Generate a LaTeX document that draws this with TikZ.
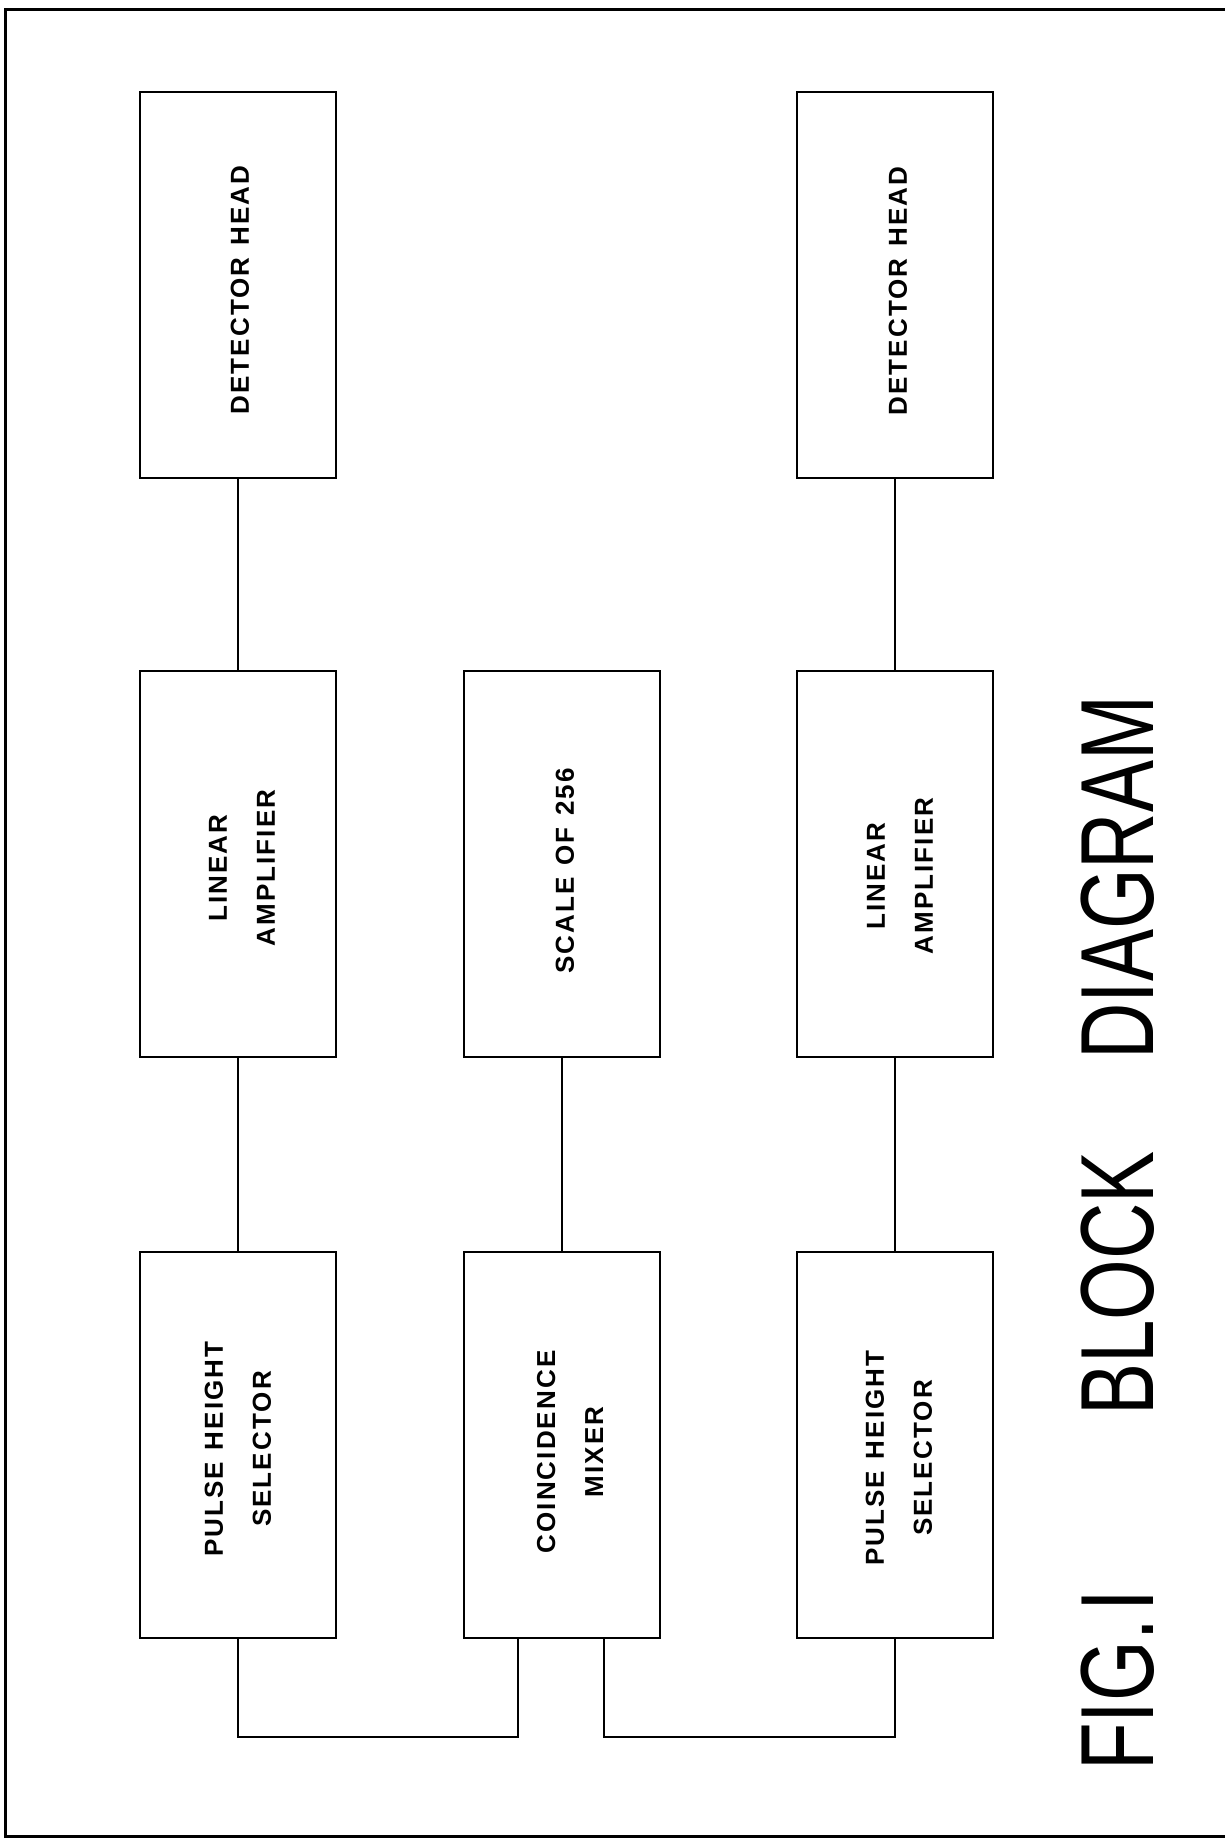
\documentclass[tikz,border=0pt]{standalone}
\usepackage{fontspec}
\newfontfamily\boxfont[LetterSpace=8]{Liberation Sans}
\newfontfamily\titlefont[FakeStretch=0.75]{Liberation Sans}
\newcommand\wsp{\hspace{0.45em}}
\begin{document}
\begin{tikzpicture}[x=1pt,y=-1pt,
  blk/.style={draw, line width=2.6pt, minimum width=196pt, minimum height=386pt, inner sep=0pt},
  lbl/.style={rotate=90, align=center, inner sep=0pt, font=\boxfont\bfseries\fontsize{26}{48}\selectfont},
  ttl/.style={rotate=90, anchor=west, inner sep=0pt, font=\titlefont\fontsize{104}{120}\selectfont},
  wire/.style={line width=2.4pt},
  frame/.style={line width=3pt}]
\useasboundingbox (0,0) rectangle (1225,1839);
% frame
\coordinate (fTR) at (1225,9);
\coordinate (fTL) at (5,9);
\coordinate (fBL) at (5,1836);
\coordinate (fBR) at (1225,1836);
\draw[frame] (fTR) -- (fTL) -- (fBL) -- (fBR);
% boxes
\node[blk] (dh1) at (238,285) {};
\node[blk] (la1) at (238,864) {};
\node[blk] (ph1) at (238,1445) {};
\node[blk] (sc)  at (562,864) {};
\node[blk] (cm)  at (562,1445) {};
\node[blk] (dh2) at (895,285) {};
\node[blk] (la2) at (895,864) {};
\node[blk] (ph2) at (895,1445) {};
% labels
\node[lbl] (tdh1) at (240,290) {DETECTOR\wsp HEAD};
\node[lbl] (tla1) at (242,868) {LINEAR\\AMPLIFIER};
\node[lbl] (tph1) at (238,1449) {PULSE\wsp HEIGHT\\SELECTOR};
\node[lbl] (tsc)  at (565,871) {SCALE\wsp OF\wsp 256};
\node[lbl] (tcm)  at (570,1452) {COINCIDENCE\\MIXER};
\node[lbl] (tdh2) at (898,291) {DETECTOR\wsp HEAD};
\node[lbl] (tla2) at (900,876) {LINEAR\\AMPLIFIER};
\node[lbl] (tph2) at (899,1458) {PULSE\wsp HEIGHT\\SELECTOR};
% vertical connectors
\draw[wire] (dh1.south) -- (la1.north);
\draw[wire] (la1.south) -- (ph1.north);
\draw[wire] (sc.south) -- (cm.north);
\draw[wire] (dh2.south) -- (la2.north);
\draw[wire] (la2.south) -- (ph2.north);
% bottom connectors
\coordinate (m1) at ([xshift=-44pt]cm.south);
\coordinate (m2) at ([xshift=42pt]cm.south);
\coordinate (busL) at (0,1737);
\draw[wire] (ph1.south) -- (ph1.south |- busL) -| (m1);
\draw[wire] (m2) -- (m2 |- busL) -| (ph2.south);
% title
\node[ttl] (t1) at (1118,1771) {FIG.\kern8pt I};
\node[ttl] (t2) at (1118,1416) {BLOCK};
\node[ttl] (t3) at (1118,1060) {DIAGRAM};
\end{tikzpicture}
\end{document}
